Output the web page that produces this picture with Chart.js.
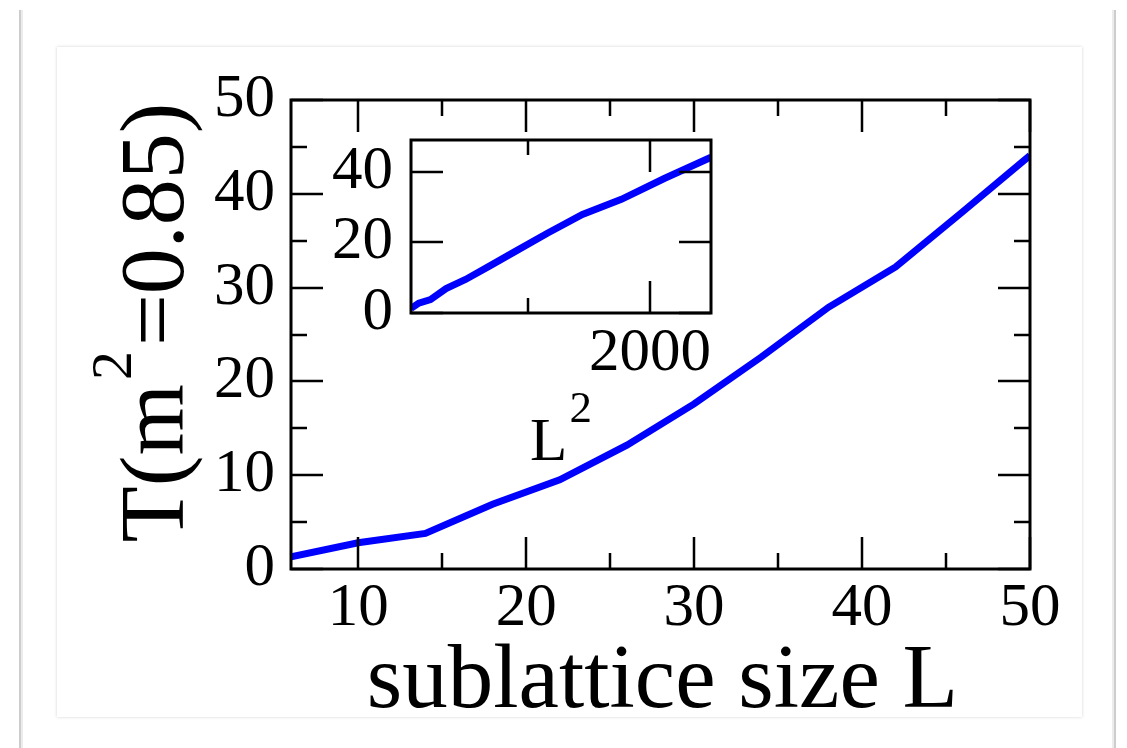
<!DOCTYPE html>
<html>
<head>
<meta charset="utf-8">
<script src="https://cdn.jsdelivr.net/npm/chart.js@4.4.1/dist/chart.umd.min.js"></script>
<style>
  html, body { margin: 0; padding: 0; background: #fff; width: 1127px; height: 748px; overflow: hidden; }
  .sheet { position: absolute; left: 19px; top: 10px; width: 1093px; height: 800px;
           border-left: 2px solid #cdcdcd; border-right: 2px solid #cdcdcd; background: #fff; }
  .sheet::before, .sheet::after { content: ''; position: absolute; top: 0; bottom: 0; width: 2px; background: #ececec; }
  .sheet::before { left: 0; }
  .sheet::after { right: 0; }
  .card { position: absolute; left: 57px; top: 47px; width: 1025px; height: 670px; background: #fff;
          box-shadow: 0 0 3px rgba(0,0,0,0.18); }
  canvas { position: absolute; }
</style>
</head>
<body>
<div class="sheet"></div>
<div class="card"></div>
<canvas id="mainPlot" width="1127" height="748" style="left:0;top:0;width:1127px;height:748px"></canvas>
<canvas id="insetPlot" width="460" height="420" style="left:300px;top:60px;width:460px;height:420px"></canvas>
<script>
// Sublattice size L, its square, and the temperature T at m^2 = 0.85
const sizeL   = [6, 10, 14, 18, 22, 26, 30, 34, 38, 42, 46, 50];
const sizeLsq = [36, 100, 196, 324, 484, 676, 900, 1156, 1444, 1764, 2116, 2500];
const tempT   = [1.3, 2.8, 3.8, 6.9, 9.5, 13.2, 17.6, 22.6, 27.9, 32.2, 38.1, 44.1];

// Tick values (labelled majors and unlabelled minors)
const mainXTicks  = [10, 20, 30, 40, 50];
const mainXMinor  = [15, 25, 35, 45];
const mainYTicks  = [0, 10, 20, 30, 40, 50];
const mainYMinor  = [5, 15, 25, 35, 45];
const insetXTicks = [2000];
const insetXMinor = [1000];
const insetYTicks = [0, 20, 40];
const insetYMinor = [];

const SERIF = '"Liberation Serif", "DejaVu Serif", serif';
const BLUE = '#0000ff';

// Closed frame with inward ticks on all four sides
const frameTicks = {
  id: 'frameTicks',
  afterDatasetsDraw(chart, args, o) {
    const { ctx, chartArea: a, scales: { x, y } } = chart;
    ctx.save();
    ctx.strokeStyle = '#000';
    ctx.lineWidth = o.tickWidth;
    ctx.beginPath();
    const vx = (list, len) => list.forEach(v => {
      const p = Math.round(x.getPixelForValue(v));
      ctx.moveTo(p, a.bottom); ctx.lineTo(p, a.bottom - len);
      ctx.moveTo(p, a.top);    ctx.lineTo(p, a.top + len);
    });
    const vy = (list, len) => list.forEach(v => {
      const p = Math.round(y.getPixelForValue(v));
      ctx.moveTo(a.left, p);  ctx.lineTo(a.left + len, p);
      ctx.moveTo(a.right, p); ctx.lineTo(a.right - len, p);
    });
    vx(o.xMajor, o.majorLen); vx(o.xMinor, o.minorLen);
    vy(o.yMajor, o.majorLen); vy(o.yMinor, o.minorLen);
    ctx.stroke();
    ctx.lineWidth = o.frameWidth;
    ctx.strokeRect(a.left, a.top, a.right - a.left, a.bottom - a.top);
    ctx.restore();
  }
};

// Axis titles with a superscript part, drawn as text runs
function measureRuns(ctx, runs) {
  let total = 0;
  runs.forEach(r => {
    ctx.font = r.size + 'px ' + SERIF;
    r.w = ctx.measureText(r.text).width;
    total += r.w + (r.gap || 0);
  });
  return total;
}
const richTitles = {
  id: 'richTitles',
  afterDraw(chart, args, o) {
    const { ctx, chartArea: a } = chart;
    ctx.save();
    ctx.fillStyle = '#000';
    ctx.textBaseline = 'alphabetic';
    ctx.textAlign = 'left';
    (o.items || []).forEach(item => {
      const total = measureRuns(ctx, item.runs);
      ctx.save();
      if (item.rotate) {
        const cy = (a.top + a.bottom) / 2 + item.dy;
        ctx.translate(a.left + item.dx, cy);
        ctx.rotate(-Math.PI / 2);
      } else {
        ctx.translate((a.left + a.right) / 2 + item.dx, a.bottom + item.dy);
      }
      let cur = -total / 2;
      item.runs.forEach(r => {
        cur += (r.gap || 0);
        ctx.font = r.size + 'px ' + SERIF;
        ctx.fillText(r.text, cur, -(r.rise || 0));
        cur += r.w;
      });
      ctx.restore();
    });
    ctx.restore();
  }
};

function fixedTicks(list) {
  return scale => { scale.ticks = list.map(v => ({ value: v })); };
}
const plainLabel = v => String(v);

Chart.defaults.font.family = SERIF;
Chart.defaults.color = '#000';

new Chart(document.getElementById('mainPlot'), {
  type: 'line',
  data: {
    labels: sizeL,
    datasets: [{
      data: sizeL.map((l, i) => ({ x: l, y: tempT[i] })),
      borderColor: BLUE,
      borderWidth: 7,
      pointRadius: 0,
      tension: 0,
      fill: false
    }]
  },
  options: {
    responsive: false,
    animation: false,
    devicePixelRatio: 1,
    layout: { padding: { left: 0, top: 100, right: 97, bottom: 0 } },
    plugins: {
      legend: { display: false },
      tooltip: { enabled: false },
      frameTicks: { xMajor: mainXTicks, xMinor: mainXMinor, yMajor: mainYTicks, yMinor: mainYMinor,
                    majorLen: 32, minorLen: 16, tickWidth: 2.5, frameWidth: 3 },
      richTitles: {
        items: [
          { runs: [{ text: 'sublattice size L', size: 91 }], dx: 2, dy: 138 },
          { rotate: true, dx: -108, dy: -12,
            runs: [{ text: 'T(m', size: 92 }, { text: '2', size: 58, rise: 52, gap: 4 },
                   { text: '=0.85)', size: 92, gap: 5 }] }
        ]
      }
    },
    scales: {
      x: {
        type: 'linear', min: 6, max: 50,
        afterBuildTicks: fixedTicks(mainXTicks),
        afterFit: s => { s.height = 748 - 569; },
        grid: { display: false, drawTicks: false },
        border: { display: false },
        ticks: { font: { size: 61 }, padding: 3, maxRotation: 0, autoSkip: false, callback: plainLabel }
      },
      y: {
        type: 'linear', min: 0, max: 50,
        afterBuildTicks: fixedTicks(mainYTicks),
        afterFit: s => { s.width = 291; },
        grid: { display: false, drawTicks: false },
        border: { display: false },
        ticks: { font: { size: 61 }, padding: 16, autoSkip: false, callback: plainLabel }
      }
    }
  },
  plugins: [frameTicks, richTitles]
});

new Chart(document.getElementById('insetPlot'), {
  type: 'line',
  data: {
    labels: sizeLsq,
    datasets: [{
      data: sizeLsq.map((l, i) => ({ x: l, y: tempT[i] })),
      borderColor: BLUE,
      borderWidth: 7,
      pointRadius: 0,
      tension: 0,
      fill: false
    }]
  },
  options: {
    responsive: false,
    animation: false,
    devicePixelRatio: 1,
    layout: { padding: { left: 0, top: 80, right: 49, bottom: 0 } },
    plugins: {
      legend: { display: false },
      tooltip: { enabled: false },
      frameTicks: { xMajor: insetXTicks, xMinor: insetXMinor, yMajor: insetYTicks, yMinor: insetYMinor,
                    majorLen: 32, minorLen: 15, tickWidth: 2.5, frameWidth: 3 },
      richTitles: {
        items: [
          { runs: [{ text: 'L', size: 61 }, { text: '2', size: 45, rise: 38, gap: 2 }], dx: 0, dy: 147 }
        ]
      }
    },
    scales: {
      x: {
        type: 'linear', min: 36, max: 2500,
        afterBuildTicks: fixedTicks(insetXTicks),
        afterFit: s => { s.height = 480 - 313; },
        grid: { display: false, drawTicks: false },
        border: { display: false },
        ticks: { font: { size: 61 }, padding: 4, maxRotation: 0, autoSkip: false, callback: plainLabel }
      },
      y: {
        type: 'linear', min: 0, max: 49,
        afterBuildTicks: fixedTicks(insetYTicks),
        afterFit: s => { s.width = 111; },
        grid: { display: false, drawTicks: false },
        border: { display: false },
        ticks: { font: { size: 61 }, padding: 18, autoSkip: false, callback: plainLabel }
      }
    }
  },
  plugins: [frameTicks, richTitles]
});
</script>
</body>
</html>
